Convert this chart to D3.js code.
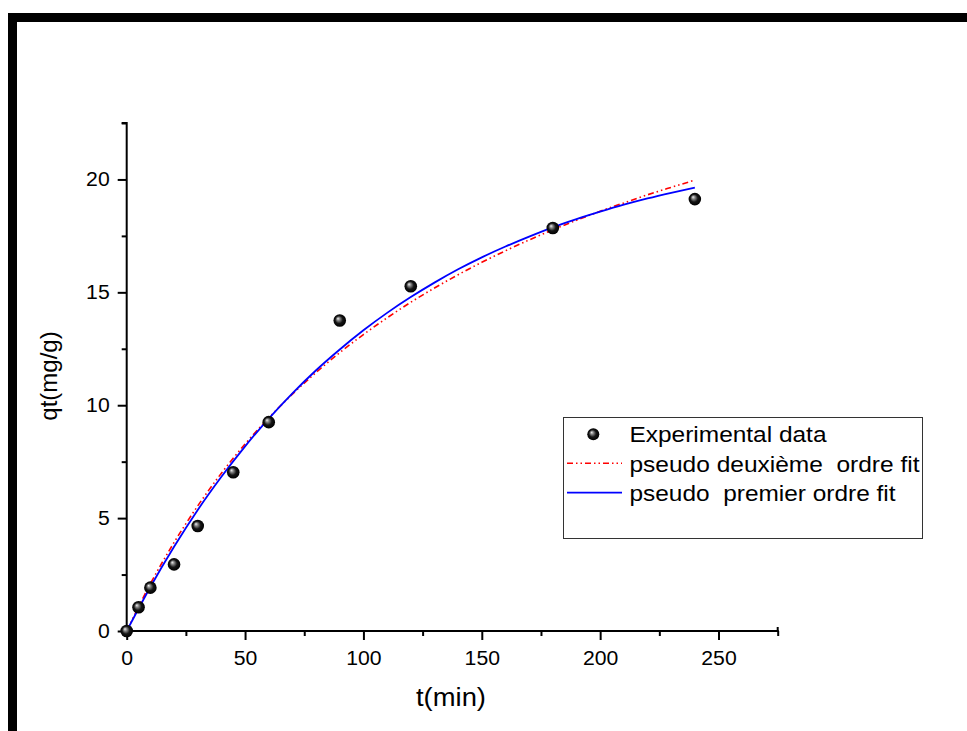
<!DOCTYPE html>
<html>
<head>
<meta charset="utf-8">
<script src="https://cdn.jsdelivr.net/npm/d3@7"></script>
<style>
  html, body { margin: 0; padding: 0; background: #fff; }
  svg { display: block; font-family: Arial, "Liberation Sans", sans-serif; }
</style>
</head>
<body>
<svg id="chart" width="967" height="731"></svg>
<script>
// ---- Data ----
const expTime = [0, 5, 10, 20, 30, 45, 60, 90, 120, 180, 240];
const expQt   = [0, 1.05, 1.92, 2.95, 4.65, 7.03, 9.25, 13.75, 15.27, 17.85, 19.13];

const fitTime = [0, 10, 20, 30, 40, 50, 60, 70, 80, 90, 100, 110, 120, 130, 140, 150, 160, 170, 180, 190, 200, 210, 220, 230, 240];
const secondOrderQt = [0, 2.09, 3.92, 5.54, 6.99, 8.28, 9.44, 10.49, 11.45, 12.33, 13.13, 13.87, 14.56, 15.19, 15.78, 16.33, 16.84, 17.32, 17.77, 18.19, 18.59, 18.96, 19.32, 19.65, 19.97];
const firstOrderQt  = [0, 1.95, 3.73, 5.36, 6.83, 8.18, 9.41, 10.53, 11.55, 12.47, 13.32, 14.09, 14.79, 15.43, 16.02, 16.55, 17.03, 17.47, 17.88, 18.24, 18.57, 18.88, 19.16, 19.41, 19.64];

const xMajorTicks = [0, 50, 100, 150, 200, 250];
const xMinorTicks = [25, 75, 125, 175, 225, 275];
const yMajorTicks = [0, 5, 10, 15, 20];
const yMinorTicks = [2.5, 7.5, 12.5, 17.5, 22.5];

const legendLabels = ["Experimental data", "pseudo deuxième  ordre fit", "pseudo  premier ordre fit"];

// ---- Layout ----
const svg = d3.select("#chart");
const x0 = 126.7, x1 = 777.7, yTop = 123, yBot = 631;
const x = d3.scaleLinear().domain([0, 275]).range([x0, x1]);
const y = d3.scaleLinear().domain([0, 22.5]).range([yBot, yTop]);

function stretch(sel, f) {
  sel.each(function () {
    const w = this.getComputedTextLength();
    d3.select(this).attr("textLength", w * f).attr("lengthAdjust", "spacingAndGlyphs");
  });
}

// Frame bars (top & left)
svg.append("rect").attr("x", 8).attr("y", 13).attr("width", 959).attr("height", 9).attr("fill", "#000");
svg.append("rect").attr("x", 8).attr("y", 13).attr("width", 9).attr("height", 718).attr("fill", "#000");

// Defs: sphere gradient
const defs = svg.append("defs");
const grad = defs.append("radialGradient").attr("id", "sphere")
  .attr("cx", "0.5").attr("cy", "0.5").attr("r", "0.5")
  .attr("fx", "0.35").attr("fy", "0.33");
grad.append("stop").attr("offset", "0%").attr("stop-color", "#f2f2f2");
grad.append("stop").attr("offset", "25%").attr("stop-color", "#8a8a8a");
grad.append("stop").attr("offset", "60%").attr("stop-color", "#151515");
grad.append("stop").attr("offset", "100%").attr("stop-color", "#000");

// Axes
const xAxis = d3.axisBottom(x).tickValues(xMajorTicks).tickSize(9).tickPadding(11).tickFormat(d3.format("d"));
const xAxisMinor = d3.axisBottom(x).tickValues(xMinorTicks).tickSize(5).tickFormat("");
const yAxis = d3.axisLeft(y).tickValues(yMajorTicks).tickSize(9).tickPadding(8).tickFormat(d3.format("d"));
const yAxisMinor = d3.axisLeft(y).tickValues(yMinorTicks).tickSize(5).tickFormat("");

function styleAxis(g) {
  g.select(".domain").remove();
  g.selectAll(".tick line").attr("stroke", "#000").attr("stroke-width", 2);
  g.selectAll(".tick text").attr("fill", "#000").attr("font-size", 20)
    .attr("font-family", "Arial, 'Liberation Sans', sans-serif");
}

svg.append("g").attr("transform", `translate(0,${yBot})`).call(xAxisMinor).call(styleAxis);
const gx = svg.append("g").attr("transform", `translate(0,${yBot})`).call(xAxis).call(styleAxis);
svg.append("g").attr("transform", `translate(${x0},0)`).call(yAxisMinor).call(styleAxis);
const gy = svg.append("g").attr("transform", `translate(${x0},0)`).call(yAxis).call(styleAxis);
stretch(gx.selectAll(".tick text"), 1.06);
stretch(gy.selectAll(".tick text"), 1.06);

// axis lines
svg.append("line").attr("x1", x0 - 1).attr("x2", x1 + 1).attr("y1", yBot).attr("y2", yBot)
  .attr("stroke", "#000").attr("stroke-width", 2);
svg.append("line").attr("x1", x0).attr("x2", x0).attr("y1", yTop - 1).attr("y2", yBot + 1)
  .attr("stroke", "#000").attr("stroke-width", 2);
svg.append("line").attr("x1", x0 - 5).attr("x2", x0).attr("y1", yTop).attr("y2", yTop)
  .attr("stroke", "#000").attr("stroke-width", 2);
svg.append("line").attr("x1", x1).attr("x2", x1).attr("y1", yBot).attr("y2", yBot - 4)
  .attr("stroke", "#000").attr("stroke-width", 2);

// Axis titles
svg.append("text").attr("x", 451).attr("y", 706).attr("text-anchor", "middle")
  .attr("font-size", 25).attr("fill", "#000").attr("textLength", 70)
  .attr("lengthAdjust", "spacingAndGlyphs").text("t(min)");
svg.append("text").attr("transform", "translate(57,376) rotate(-90)").attr("text-anchor", "middle")
  .attr("font-size", 24).attr("fill", "#000").text("qt(mg/g)");

// Lines
const secondPts = fitTime.map((t, i) => [t, secondOrderQt[i]]);
const firstPts = fitTime.map((t, i) => [t, firstOrderQt[i]]);
const lineGenCurve = d3.line().x(d => x(d[0])).y(d => y(d[1])).curve(d3.curveMonotoneX);

svg.append("path").datum(secondPts).attr("d", lineGenCurve)
  .attr("fill", "none").attr("stroke", "#ff0000").attr("stroke-width", 1.6)
  .attr("stroke-dasharray", "6,3,1.5,3,1.5,3");
svg.append("path").datum(firstPts).attr("d", lineGenCurve)
  .attr("fill", "none").attr("stroke", "#0000ff").attr("stroke-width", 1.8);

// Points
svg.append("g").selectAll("circle").data(expTime.map((t, i) => [t, expQt[i]]))
  .join("circle")
  .attr("cx", d => x(d[0])).attr("cy", d => y(d[1])).attr("r", 6.3)
  .attr("fill", "url(#sphere)");

// Legend
const lg = svg.append("g");
lg.append("rect").attr("x", 563.5).attr("y", 417.5).attr("width", 359).attr("height", 121)
  .attr("fill", "#fff").attr("stroke", "#333").attr("stroke-width", 1);
const rowY = [442, 472, 501];
const rowW = [197, 290, 266];
lg.append("circle").attr("cx", 593.3).attr("cy", 434.3).attr("r", 6).attr("fill", "url(#sphere)");
lg.append("line").attr("x1", 567).attr("x2", 622).attr("y1", 463.3).attr("y2", 463.3)
  .attr("stroke", "#ff0000").attr("stroke-width", 1.6).attr("stroke-dasharray", "6,3,1.5,3,1.5,3");
lg.append("line").attr("x1", 567).attr("x2", 622).attr("y1", 492.7).attr("y2", 492.7)
  .attr("stroke", "#0000ff").attr("stroke-width", 1.8);
lg.selectAll("text.lbl").data(legendLabels).join("text").attr("class", "lbl")
  .attr("x", 629.5).attr("y", (d, i) => rowY[i]).attr("font-size", 22).attr("fill", "#000")
  .attr("xml:space", "preserve").style("white-space", "pre")
  .attr("textLength", (d, i) => rowW[i]).attr("lengthAdjust", "spacingAndGlyphs")
  .text(d => d);
</script>
</body>
</html>
